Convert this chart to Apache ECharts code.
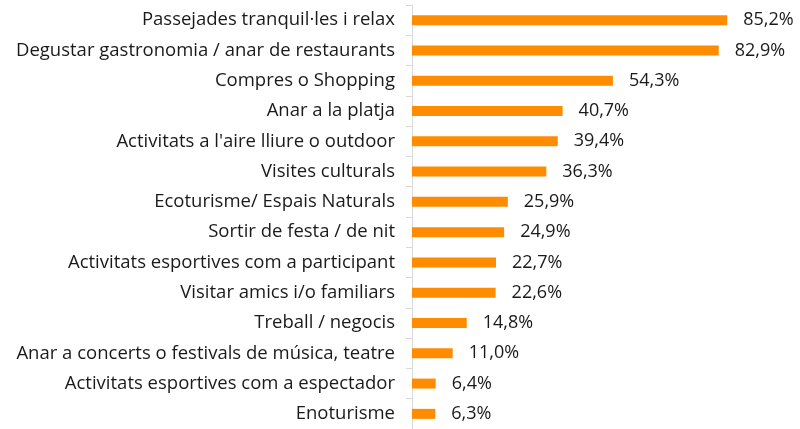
<!DOCTYPE html>
<html>
<head>
<meta charset="utf-8">
<script src="https://cdn.jsdelivr.net/npm/echarts@6/dist/echarts.min.js"></script>
<style>
  html, body { margin: 0; padding: 0; background: #fff; }
  #main { width: 800px; height: 429px; }
</style>
</head>
<body>
<div id="main"></div>
<script>
let categories = [
    'Passejades tranquil·les i relax',
    'Degustar gastronomia / anar de restaurants',
    'Compres o Shopping',
    'Anar a la platja',
    "Activitats a l'aire lliure o outdoor",
    'Visites culturals',
    'Ecoturisme/ Espais Naturals',
    'Sortir de festa / de nit',
    'Activitats esportives com a participant',
    'Visitar amics i/o familiars',
    'Treball / negocis',
    'Anar a concerts o festivals de música, teatre',
    'Activitats esportives com a espectador',
    'Enoturisme'
];
let values = [85.2, 82.9, 54.3, 40.7, 39.4, 36.3, 25.9, 24.9, 22.7, 22.6, 14.8, 11.0, 6.4, 6.3];

let chart = echarts.init(document.getElementById('main'));
chart.setOption({
    animation: false,
    grid: {left: 412, top: 5, width: 370, height: 428},
    xAxis: {
        type: 'value', min: 0, max: 100, show: false
    },
    yAxis: {
        type: 'category',
        data: categories,
        inverse: true,
        axisLine: {lineStyle: {color: '#d9d9d9', width: 1}},
        axisTick: {show: true, length: 6, lineStyle: {color: '#d9d9d9'}},
        axisLabel: {
            margin: 17, color: '#1a1a1a', fontSize: 18.5, fontFamily: 'Open Sans'
        }
    },
    series: [{
        type: 'bar',
        data: values,
        barWidth: 10,
        itemStyle: {color: '#FF8C00'},
        label: {
            show: true, position: 'right', distance: 16,
            color: '#1a1a1a', fontSize: 18, fontFamily: 'Open Sans',
            formatter: function(p) { return p.value.toFixed(1).replace('.', ',') + '%'; }
        }
    }]
});
</script>
</body>
</html>
